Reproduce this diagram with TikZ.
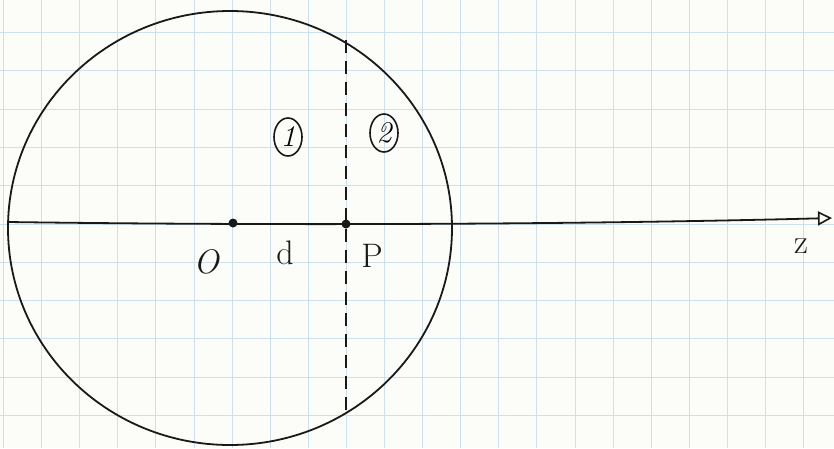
\documentclass[tikz,border=0pt]{standalone}
\usetikzlibrary{arrows.meta,shapes.geometric}
\definecolor{paper}{RGB}{252,252,249}
\definecolor{gridblue}{RGB}{204,224,237}
\definecolor{ink}{RGB}{25,25,25}
\tikzset{
  gridline/.style={gridblue, line width=1pt},
  inkline/.style={ink, line width=1.8pt},
  dot/.style={circle, fill=ink, inner sep=0pt, minimum size=9pt},
  lbl/.style={ink, font=\fontsize{34}{40}\selectfont},
  circnum/.style={ellipse, draw=ink, line width=1.6pt, inner sep=1pt, minimum width=28pt, minimum height=38pt, font=\fontsize{30}{34}\selectfont\itshape}
}
\begin{document}
\begin{tikzpicture}[x=1pt,y=-1pt]
\useasboundingbox (0,0) rectangle (834,448);
\fill[paper] (0,0) rectangle (834,448);
% grid
\foreach \i in {0,...,21} {
  \draw[gridline] ({3.5+38.1*\i},0) -- ({3.5+38.1*\i},448);
}
\foreach \j in {0,...,11} {
  \draw[gridline] (0,{-5.8+38.3*\j}) -- (834,{-5.8+38.3*\j});
}
% circle
\node[ellipse, draw=ink, line width=1.8pt, minimum width=444pt, minimum height=434pt, inner sep=0pt] (ball) at (230,228) {};
% axis
\coordinate (zs) at (8,222);
\coordinate (ze) at (832,218);
\node[dot] (O) at (233,223) {};
\node[dot] (P) at (346,224) {};
\draw[inkline, -{Triangle[open, length=14pt, width=14pt, line width=1.6pt]}] (zs) .. controls (300,226) and (600,224) .. (ze);
% dashed line
\coordinate (dt) at (346,40);
\coordinate (db) at (346,415);
\draw[inkline, dash pattern=on 13pt off 8pt] (dt) -- (db);
% labels
\node[circnum] (r1) at (288,137) {1};
\node[circnum] (r2) at (384,133) {2};
\node[lbl, font=\fontsize{34}{40}\selectfont\itshape] (lO) at (206,262) {O};
\node[lbl] (ld) at (285,253) {d};
\node[lbl] (lP) at (372,256) {P};
\node[lbl] (lz) at (801,246) {z};
\end{tikzpicture}
\end{document}
